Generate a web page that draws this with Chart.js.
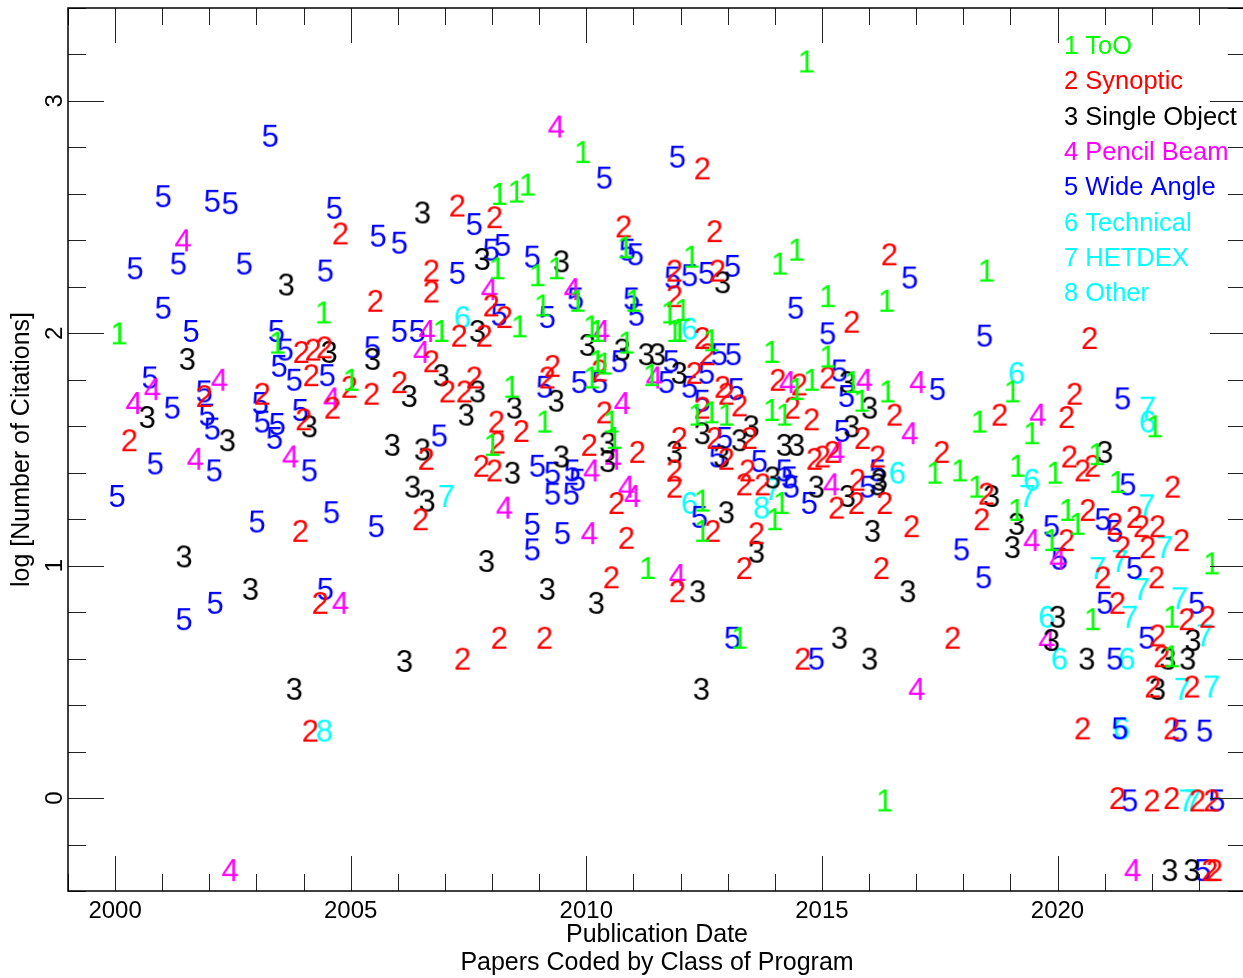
<!DOCTYPE html>
<html><head><meta charset="utf-8">
<script src="https://cdn.jsdelivr.net/npm/chart.js@4.4.0/dist/chart.umd.min.js"></script>
<style>
html,body{margin:0;padding:0;background:#fff;overflow:hidden;width:1243px;height:978px}
#wrap{position:relative;width:1243px;height:978px;overflow:hidden}
#c{position:absolute;left:0;top:0}
</style>
</head><body><div id="wrap"><canvas id="c" width="1250" height="978"></canvas></div>
<script>
// ---------------- data ----------------
const classNames = ['ToO','Synoptic','Single Object','Pencil Beam','Wide Angle','Technical','HETDEX','Other'];
const classColors = ['#00ff00','#ff0000','#000000','#ff00ff','#0000ff','#00ffff','#00ffff','#00ffff'];
const xTickValues = [2000,2005,2010,2015,2020];
const xTickLabels = ['2000','2005','2010','2015','2020'];
const yTickValues = [0,1,2,3];
const yTickLabels = ['0','1','2','3'];

// [publication year, log citations]
const tooPts = [[2014.67,3.17],[2009.92,2.78],[2008.15,2.60],[2008.51,2.61],[2008.75,2.64],[2008.11,2.28],[2008.96,2.25],[2009.36,2.28],[2010.83,2.37],[2009.81,2.14],[2008.58,2.03],[2009.07,2.12],[2006.92,2.01],[2010.11,2.03],[2010.23,2.01],[2011.00,2.14],[2012.23,2.33],[2011.76,2.09],[2012.04,2.10],[2011.87,2.01],[2011.97,2.01],[2012.65,1.97],[2014.10,2.30],[2014.46,2.36],[2015.12,2.16],[2016.37,2.14],[2018.49,2.27],[2004.42,2.09],[2000.08,2.00],[2003.44,1.96],[2005.01,1.80],[2010.85,1.96],[2011.38,1.82],[2010.11,1.81],[2010.23,1.88],[2010.38,1.87],[2008.41,1.77],[2009.11,1.62],[2008.00,1.52],[2010.53,1.62],[2010.59,1.55],[2012.34,1.65],[2012.65,1.66],[2012.97,1.65],[2012.46,1.28],[2012.46,1.15],[2011.30,0.99],[2013.93,1.92],[2015.12,1.90],[2015.65,1.79],[2014.46,1.76],[2014.78,1.80],[2015.84,1.71],[2016.39,1.75],[2013.93,1.67],[2014.20,1.65],[2017.39,1.40],[2017.92,1.41],[2014.14,1.27],[2013.99,1.20],[2013.25,0.69],[2016.33,-0.01],[2019.04,1.75],[2022.06,1.60],[2018.34,1.62],[2019.45,1.57],[2020.83,1.48],[2019.15,1.43],[2019.94,1.40],[2021.27,1.36],[2018.28,1.34],[2019.13,1.24],[2019.87,1.11],[2020.21,1.24],[2020.42,1.18],[2023.27,1.01],[2020.74,0.77],[2022.42,0.78],[2022.42,0.61]];

const synopticPts = [[2012.46,2.71],[2007.26,2.55],[2008.05,2.50],[2010.79,2.46],[2012.72,2.44],[2004.78,2.43],[2016.43,2.34],[2005.52,2.14],[2006.71,2.27],[2006.71,2.18],[2007.98,2.12],[2008.26,2.07],[2011.87,2.27],[2012.78,2.27],[2011.87,2.16],[2007.30,1.99],[2007.83,1.99],[2012.46,1.98],[2015.63,2.05],[2003.95,1.92],[2004.20,1.93],[2004.44,1.94],[2003.12,1.74],[2001.89,1.73],[2000.30,1.54],[2004.00,1.63],[2003.93,1.15],[2004.16,1.82],[2004.97,1.77],[2004.61,1.68],[2005.44,1.74],[2006.03,1.79],[2006.71,1.88],[2007.05,1.75],[2007.41,1.75],[2007.62,1.81],[2006.60,1.46],[2008.09,1.62],[2008.11,1.53],[2008.62,1.58],[2007.77,1.43],[2008.05,1.41],[2006.48,1.20],[2009.28,1.86],[2009.17,1.81],[2010.28,1.84],[2010.38,1.66],[2010.06,1.52],[2011.08,1.49],[2011.97,1.55],[2012.72,1.55],[2012.97,1.46],[2011.87,1.41],[2011.87,1.34],[2010.64,1.27],[2012.68,1.15],[2010.85,1.12],[2010.53,0.95],[2011.93,0.89],[2008.15,0.69],[2009.11,0.69],[2007.37,0.60],[2004.14,0.29],[2004.35,0.84],[2012.29,1.83],[2012.89,1.77],[2012.97,1.74],[2012.57,1.91],[2012.46,1.68],[2014.06,1.80],[2014.52,1.78],[2015.12,1.81],[2014.37,1.68],[2014.78,1.63],[2013.25,1.69],[2013.46,1.55],[2015.86,1.55],[2016.54,1.65],[2017.54,1.49],[2014.84,1.46],[2015.01,1.47],[2015.22,1.49],[2016.18,1.47],[2013.42,1.41],[2013.35,1.35],[2013.74,1.35],[2015.31,1.25],[2015.73,1.27],[2015.75,1.37],[2016.33,1.27],[2016.90,1.17],[2013.61,1.14],[2013.35,0.99],[2016.26,0.99],[2014.59,0.60],[2017.77,0.69],[2020.68,1.98],[2020.36,1.74],[2018.77,1.65],[2020.19,1.64],[2020.25,1.47],[2020.53,1.41],[2020.74,1.43],[2022.44,1.34],[2018.39,1.20],[2018.49,1.31],[2020.19,1.11],[2020.64,1.24],[2021.21,1.18],[2021.63,1.21],[2021.78,1.17],[2022.12,1.17],[2021.38,1.08],[2021.91,1.08],[2022.63,1.11],[2020.96,0.95],[2022.10,0.95],[2021.27,0.84],[2022.74,0.77],[2023.18,0.78],[2022.12,0.70],[2022.21,0.61],[2022.02,0.48],[2022.85,0.48],[2020.53,0.30],[2022.42,0.30],[2021.27,0.00],[2022.00,-0.01],[2022.42,0.00],[2022.97,-0.01],[2023.27,-0.01],[2023.23,-0.31],[2023.33,-0.31]];

const singleObjectPts = [[2006.52,2.52],[2003.63,2.21],[2007.79,2.32],[2009.47,2.31],[2012.89,2.22],[2007.69,2.01],[2001.53,1.89],[2004.54,1.92],[2005.46,1.89],[2000.68,1.64],[2002.38,1.54],[2004.12,1.60],[2006.92,1.82],[2007.69,1.75],[2007.45,1.65],[2006.24,1.73],[2008.47,1.68],[2005.88,1.52],[2006.52,1.50],[2008.43,1.40],[2006.31,1.34],[2006.62,1.28],[2001.46,1.04],[2007.88,1.02],[2002.87,0.90],[2003.80,0.47],[2006.14,0.59],[2009.17,0.90],[2010.21,0.84],[2012.36,0.89],[2012.44,0.47],[2010.02,1.95],[2010.76,1.93],[2011.27,1.91],[2011.51,1.91],[2011.97,1.83],[2009.36,1.71],[2010.45,1.53],[2010.45,1.45],[2009.47,1.47],[2011.87,1.49],[2012.46,1.57],[2012.87,1.47],[2012.97,1.23],[2013.25,1.54],[2013.50,1.60],[2015.54,1.79],[2016.01,1.68],[2015.63,1.60],[2014.20,1.52],[2014.46,1.52],[2016.22,1.37],[2013.95,1.38],[2014.88,1.34],[2015.54,1.30],[2016.18,1.35],[2016.07,1.15],[2013.61,1.06],[2016.82,0.89],[2015.37,0.69],[2016.01,0.60],[2021.00,1.49],[2018.60,1.30],[2019.13,1.18],[2019.04,1.08],[2020.00,0.78],[2019.87,0.68],[2020.62,0.60],[2022.34,0.60],[2022.76,0.60],[2022.87,0.68],[2022.12,0.47],[2022.38,-0.31],[2022.85,-0.31]];

const pencilBeamPts = [[2009.36,2.89],[2001.44,2.40],[2007.94,2.19],[2009.70,2.19],[2006.62,2.01],[2010.32,2.01],[2000.79,1.76],[2000.40,1.70],[2002.21,1.80],[2001.70,1.46],[2003.72,1.47],[2004.59,1.72],[2006.50,1.92],[2008.26,1.25],[2011.44,1.81],[2010.76,1.70],[2010.57,1.46],[2010.11,1.41],[2010.85,1.34],[2010.98,1.30],[2010.06,1.14],[2011.93,0.96],[2004.78,0.84],[2002.44,-0.31],[2014.27,1.79],[2015.90,1.80],[2017.03,1.79],[2016.86,1.57],[2015.31,1.49],[2015.20,1.35],[2017.01,0.47],[2019.58,1.65],[2019.45,1.11],[2020.00,1.03],[2019.77,0.68],[2021.59,-0.31]];

const wideAnglePts = [[2003.29,2.85],[2001.02,2.59],[2002.06,2.57],[2002.44,2.56],[2004.65,2.54],[2005.58,2.42],[2006.03,2.39],[2000.42,2.28],[2001.34,2.30],[2002.74,2.30],[2004.46,2.27],[2001.02,2.11],[2001.61,2.01],[2003.42,2.01],[2011.93,2.76],[2010.38,2.67],[2007.62,2.47],[2007.98,2.36],[2008.22,2.38],[2008.85,2.33],[2007.26,2.26],[2011.04,2.34],[2010.87,2.36],[2009.77,2.15],[2008.15,2.08],[2009.17,2.07],[2010.96,2.15],[2011.06,2.08],[2006.03,2.01],[2006.41,2.01],[2013.10,2.29],[2011.83,2.24],[2012.19,2.25],[2012.55,2.26],[2016.86,2.24],[2014.44,2.11],[2015.12,2.00],[2018.45,1.99],[2003.61,1.93],[2003.48,1.86],[2003.80,1.80],[2000.74,1.81],[2001.21,1.68],[2001.89,1.75],[2001.95,1.65],[2002.06,1.59],[2003.08,1.70],[2003.12,1.62],[2003.44,1.61],[2003.38,1.55],[2003.93,1.67],[2000.85,1.44],[2002.10,1.41],[2000.04,1.30],[2003.01,1.19],[2004.12,1.41],[2004.50,1.82],[2005.46,1.94],[2006.88,1.56],[2004.59,1.23],[2005.54,1.17],[2010.70,1.88],[2011.80,1.88],[2011.70,1.79],[2009.11,1.77],[2009.85,1.79],[2010.28,1.79],[2012.19,1.77],[2012.55,1.83],[2012.82,1.91],[2013.12,1.91],[2013.18,1.76],[2012.46,1.71],[2012.93,1.55],[2012.78,1.47],[2008.96,1.43],[2009.28,1.40],[2009.70,1.41],[2009.81,1.37],[2009.28,1.31],[2009.68,1.31],[2008.85,1.18],[2008.85,1.07],[2009.49,1.14],[2012.40,1.21],[2015.37,1.84],[2015.52,1.73],[2017.45,1.76],[2015.43,1.58],[2013.67,1.45],[2014.20,1.41],[2014.31,1.38],[2014.35,1.34],[2016.18,1.41],[2015.97,1.34],[2014.73,1.27],[2017.96,1.07],[2018.43,0.95],[2013.10,0.69],[2014.88,0.60],[2001.46,0.77],[2002.12,0.84],[2004.46,0.90],[2021.38,1.72],[2021.49,1.35],[2019.87,1.17],[2020.96,1.20],[2021.21,1.15],[2020.04,1.03],[2021.63,0.99],[2021.00,0.84],[2022.95,0.84],[2021.89,0.69],[2021.21,0.60],[2021.32,0.30],[2022.59,0.29],[2023.12,0.29],[2021.53,-0.01],[2023.38,-0.01],[2023.08,-0.31]];

const technicalPts = [[2007.37,2.07],[2012.19,2.02],[2012.19,1.27],[2016.60,1.40],[2019.13,1.83],[2021.91,1.62],[2019.45,1.37],[2019.77,0.78],[2020.04,0.60],[2021.47,0.60],[2021.36,0.30]];

const hetdexPts = [[2007.03,1.30],[2013.95,1.33],[2021.91,1.68],[2019.36,1.30],[2021.89,1.26],[2022.27,1.08],[2020.85,0.99],[2021.32,1.02],[2021.78,0.90],[2021.53,0.78],[2022.59,0.86],[2023.12,0.70],[2022.65,0.47],[2023.27,0.48],[2022.74,-0.01],[2022.87,-0.01]];

const otherPts = [[2004.44,0.29],[2013.72,1.25]];

const seriesPts = [tooPts, synopticPts, singleObjectPts, pencilBeamPts, wideAnglePts, technicalPts, hetdexPts, otherPts];

// ---------------- rendering ----------------
const FONT = '"Liberation Sans", Arial, Helvetica, sans-serif';

function glyph(ch, color){
  const c = document.createElement('canvas');
  c.width = 24; c.height = 34;
  const g = c.getContext('2d');
  g.font = '31px ' + FONT;
  g.fillStyle = color;
  g.textAlign = 'center';
  g.textBaseline = 'alphabetic';
  g.fillText(ch, 12, 17 + 11.1);
  return c;
}

const datasets = seriesPts.map((pts, i) => ({
  label: (i+1) + ' ' + classNames[i],
  data: pts.map(p => ({x: p[0], y: p[1]})),
  pointStyle: glyph(String(i+1), classColors[i]),
  pointRadius: 1,
  showLine: false
}));

const frameTicks = {
  id: 'frameTicks',
  afterDatasetsDraw(chart){
    const {ctx, chartArea: a, scales: {x, y}} = chart;
    ctx.save();
    ctx.strokeStyle = '#222';
    ctx.lineWidth = 1;
    ctx.beginPath();
    for (let v = Math.ceil(x.min); v <= x.max; v++){
      const px = Math.round(x.getPixelForValue(v)) + 0.5;
      const len = (v % 5 === 0) ? 35 : 17;
      ctx.moveTo(px, a.bottom); ctx.lineTo(px, a.bottom - len);
      ctx.moveTo(px, a.top); ctx.lineTo(px, a.top + len);
    }
    for (let i = -2; i <= 17; i++){
      const v = i * 0.2;
      const py = Math.round(y.getPixelForValue(v)) + 0.5;
      const len = (i % 5 === 0) ? 36 : 18;
      ctx.moveTo(a.left, py); ctx.lineTo(a.left + len, py);
      ctx.moveTo(a.right, py); ctx.lineTo(a.right - len, py);
    }
    ctx.stroke();
    ctx.strokeStyle = '#000';
    ctx.lineWidth = 1.5;
    ctx.strokeRect(a.left, a.top, a.right - a.left, a.bottom - a.top);
    ctx.restore();
  },
  afterDraw(chart){
    const {ctx, chartArea: a} = chart;
    ctx.save();
    ctx.font = '25.5px ' + FONT;
    ctx.textAlign = 'left';
    ctx.textBaseline = 'middle';
    classNames.forEach((n, i) => {
      ctx.fillStyle = classColors[i];
      ctx.fillText((i+1) + ' ' + n, a.right - 182, a.top + 39 + i * 35.3);
    });
    ctx.restore();
  }
};

new Chart(document.getElementById('c'), {
  type: 'scatter',
  data: {datasets},
  plugins: [frameTicks],
  options: {
    responsive: false,
    animation: false,
    events: [],
    layout: {autoPadding: false, padding: {left: 0, right: 4, top: 8, bottom: 0}},
    plugins: {legend: {display: false}, tooltip: {enabled: false}},
    scales: {
      x: {
        type: 'linear', min: 1999, max: 2024,
        grid: {display: false, drawTicks: false},
        border: {display: false},
        afterBuildTicks: s => { s.ticks = xTickValues.map(v => ({value: v})); },
        afterFit: s => { s.height = 87; s.paddingLeft = 0; s.paddingRight = 0; },
        ticks: {
          font: {family: FONT, size: 24}, color: '#000', padding: 6,
          minRotation: 0, maxRotation: 0,
          callback: v => xTickLabels[xTickValues.indexOf(v)]
        },
        title: {
          display: true,
          text: ['Publication Date', 'Papers Coded by Class of Program'],
          font: {family: FONT, size: 25, lineHeight: 1.12},
          color: '#000',
          padding: {top: 0, bottom: 1}
        }
      },
      y: {
        type: 'linear', min: -0.4, max: 3.4,
        grid: {display: false, drawTicks: false},
        border: {display: false},
        afterBuildTicks: s => { s.ticks = yTickValues.map(v => ({value: v})); },
        afterFit: s => { s.width = 68; s.paddingTop = 0; s.paddingBottom = 0; },
        ticks: {
          font: {family: FONT, size: 24}, color: '#000', padding: 6,
          minRotation: 90, maxRotation: 90, crossAlign: 'center',
          callback: v => yTickLabels[yTickValues.indexOf(v)]
        },
        title: {
          display: true,
          text: 'log [Number of Citations]',
          font: {family: FONT, size: 25, lineHeight: 1.12},
          color: '#000',
          padding: {top: 8, bottom: 0}
        }
      }
    }
  }
});
</script>
</body></html>
